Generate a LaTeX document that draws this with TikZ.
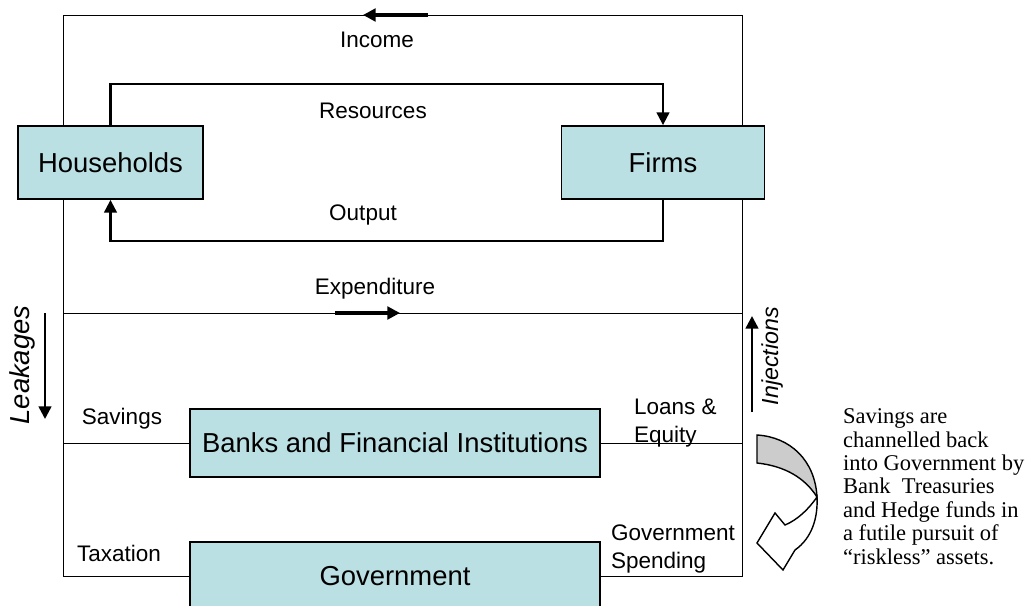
\documentclass[tikz,border=0pt]{standalone}
\usepackage{fontspec}
\setmainfont{Liberation Sans}
\newfontfamily\notefont{Liberation Serif}
\usetikzlibrary{arrows, positioning, arrows.meta, calc, backgrounds}
\definecolor{boxblue}{RGB}{187,224,227}
\definecolor{ribbon}{RGB}{204,204,204}

\begin{document}
\begin{tikzpicture}[x=0.025cm,y=-0.025cm,>={Triangle[length=9pt,width=9pt]},line width=1.5pt,
    sector/.style={rectangle, draw, fill=boxblue, line width=1.3pt, inner sep=0pt, font=\fontsize{19.5}{23}\selectfont},
    flowlbl/.style={inner sep=0pt, align=left, font=\fontsize{16}{19.5}\selectfont}]
  \useasboundingbox (0,0) rectangle (1032,605);

  \coordinate (tl) at (63,15);
  \coordinate (tr) at (742,15);
  \coordinate (expl) at (63,313);
  \coordinate (expr) at (742,313);
  \coordinate (inc1) at (428,15);
  \coordinate (inc2) at (363,15);
  \coordinate (exp1) at (335,313);
  \coordinate (exp2) at (400,313);
  \coordinate (leak1) at (45,313);
  \coordinate (leak2) at (45,419);
  \coordinate (inj1) at (752,412);
  \coordinate (inj2) at (752,316);

  \node (hh) [sector, minimum width=4.625cm, minimum height=1.825cm] at (110.5,162.5) {Households};
  \node (firms) [sector, minimum width=5.075cm, minimum height=1.825cm] at (663,162.5) {Firms};
  \node (bank) [sector, minimum width=10.25cm, minimum height=1.7cm] at (395,443) {Banks and Financial Institutions};
  \node (gov) [sector, minimum width=10.25cm, minimum height=1.7cm] at (395,576) {Government};

  % outer circuit sits behind the boxes
  \begin{scope}[on background layer]
    \draw (gov.west) -| (tl) -- (tr) |- (gov.east);
    \draw (expl) -- (expr);
    \draw (bank.west) -- (bank.west -| tl);
    \draw (bank.east) -- (bank.east -| tr);
  \end{scope}

  \draw[->] (hh.north) -- ++(0,-41) -| (firms.north);
  \draw[->] (firms.south) -- ++(0,41) -| (hh.south);

  \draw[->, line width=2.2pt] (inc1) -- (inc2);
  \draw[->, line width=2.2pt] (exp1) -- (exp2);
  \draw[->, line width=1.8pt] (leak1) -- (leak2);
  \draw[->, line width=1.8pt] (inj1) -- (inj2);

  \node (income) [flowlbl] at (377,40) {Income};
  \node (resources) [flowlbl] at (373,111) {Resources};
  \node (output) [flowlbl] at (363,215) {Output};
  \node (expend) [flowlbl] at (375,289) {Expenditure};
  \node (savings) [flowlbl] at (122,419) {Savings};
  \node (loans) [flowlbl, anchor=north west] at (633,398) {Loans \&\\Equity};
  \node (taxation) [flowlbl] at (119,553) {Taxation};
  \node (govspend) [flowlbl, anchor=north west] at (610,524) {Government\\Spending};

  \node (leakages) [rotate=90, inner sep=0pt, font=\itshape\fontsize{19.5}{23}\selectfont] at (22,365) {Leakages};
  \node (injections) [rotate=90, inner sep=0pt, font=\itshape\fontsize{16.5}{20}\selectfont] at (772,356) {Injections};

  \node (note) [anchor=north west, align=left, inner sep=0pt, font=\notefont\fontsize{16}{16.6}\selectfont] at (842,408)
    {Savings are\\channelled back\\into Government by\\Bank\ \ Treasuries\\and Hedge funds in\\a futile pursuit of\\“riskless” assets.};

  \draw[fill=ribbon, line width=1pt] (757,435) .. controls (790,437) and (815,460) .. (817,497)
    .. controls (805,478) and (785,466) .. (757,463) -- cycle;
  \draw[fill=white, line width=1pt] (817,497) .. controls (808,510) and (797,520) .. (785,525)
    -- (775,513) -- (757,543) -- (783,570) -- (795,550) .. controls (812,538) and (818,518) .. (817,497) -- cycle;
\end{tikzpicture}
\end{document}
